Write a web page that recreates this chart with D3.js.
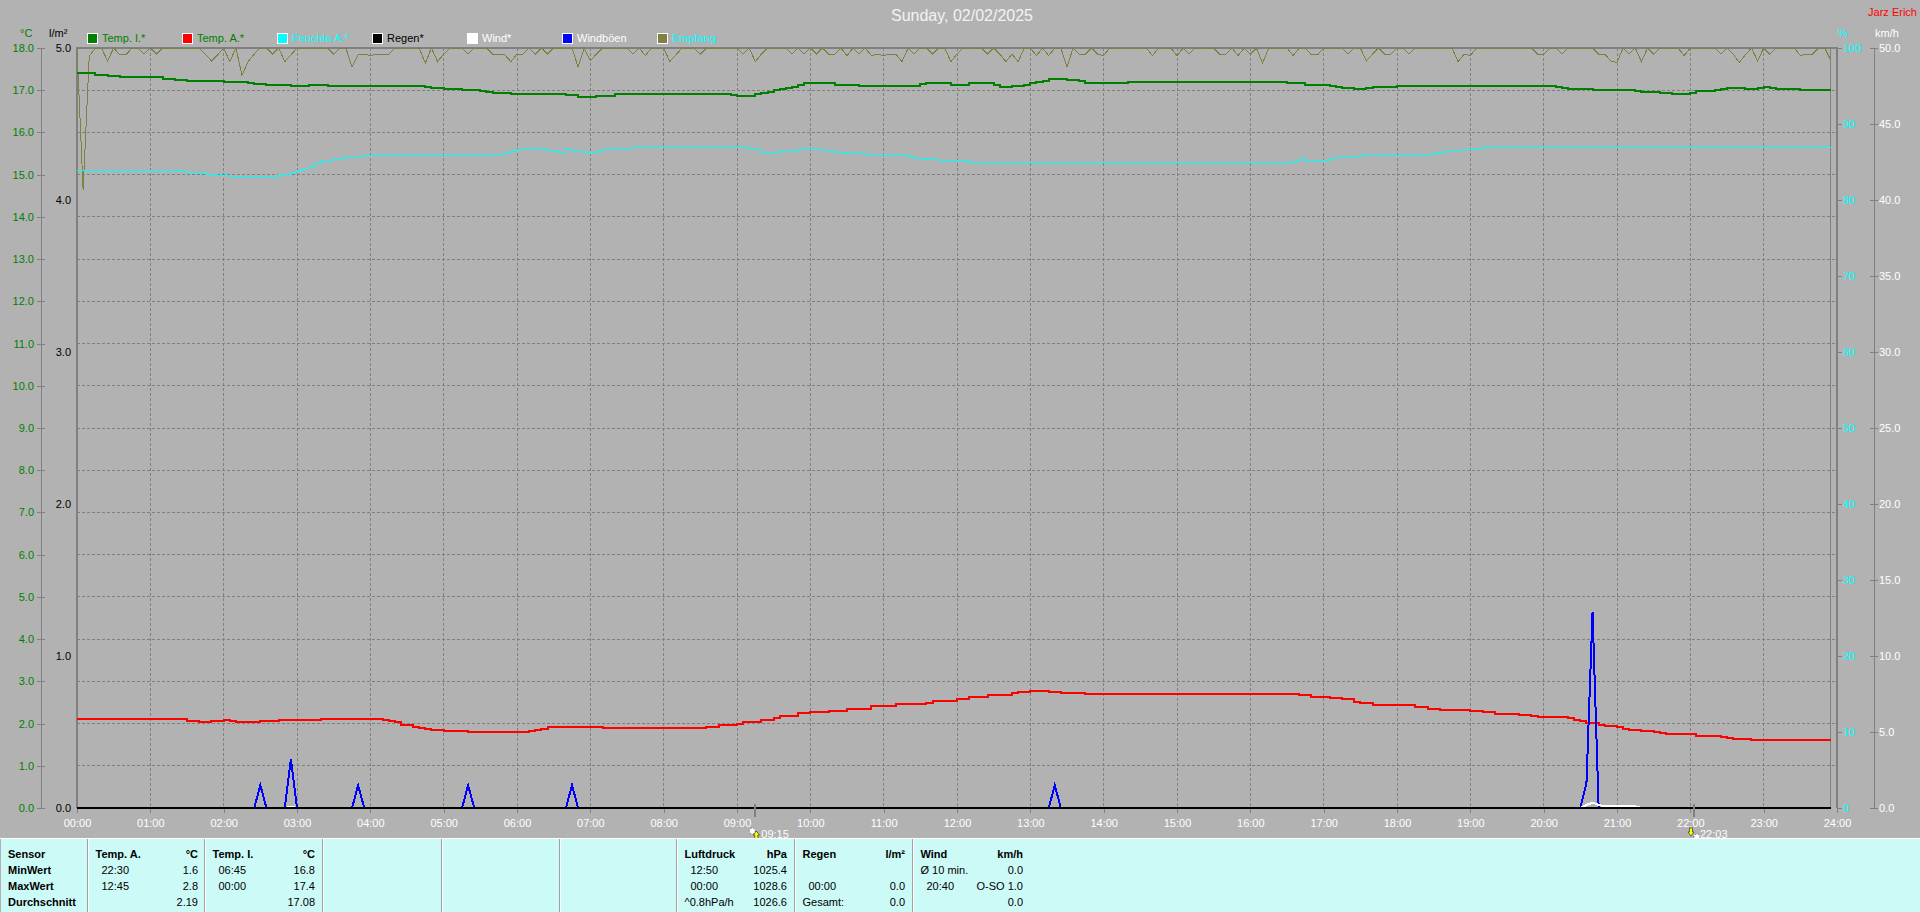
<!DOCTYPE html>
<html>
<head>
<meta charset="utf-8">
<title>Sunday, 02/02/2025</title>
<script src="https://cdn.jsdelivr.net/npm/d3@7"></script>
<style>
    html, body { margin: 0; padding: 0; background: #b2b2b2; overflow: hidden; }
    svg { display: block; }
    text { font-family: "Liberation Sans", Arial, sans-serif; font-size: 11px; }
    .crisp { shape-rendering: crispEdges; }
</style>
</head>
<body>
<div id="chart"></div>
<script>
// Values. Times are minutes after midnight.
const chartTitle = "Sunday, 02/02/2025";
const legendNames = ["Temp. I.*", "Temp. A.*", "Feuchte A.*", "Regen*", "Wind*", "Windböen", "Empfang"];

const tempInTimes = [0, 15, 25, 35, 70, 80, 90, 120, 140, 145, 155, 175, 190, 205, 285, 290, 300, 315, 330, 335, 340, 355,
    400, 410, 425, 440, 495, 535, 540, 555, 560, 565, 570, 575, 580, 585, 590, 595, 605, 610, 620, 640, 690, 695, 710, 715,
    730, 735, 740, 750, 755, 765, 775, 780, 785, 790, 795, 810, 820, 825, 835, 845, 860, 990, 995, 1005, 1025, 1030, 1035,
    1045, 1055, 1060, 1080, 1210, 1215, 1220, 1240, 1275, 1280, 1295, 1305, 1320, 1325, 1335, 1340, 1345, 1350, 1365, 1375,
    1380, 1385, 1390, 1410, 1435];
const tempInValues = [17.40, 17.37, 17.34, 17.32, 17.27, 17.24, 17.22, 17.19, 17.17, 17.15, 17.13, 17.11, 17.13, 17.11, 17.08, 17.05, 17.03, 17.01, 16.98, 16.95, 16.93, 16.91,
    16.89, 16.85, 16.87, 16.90, 16.92, 16.89, 16.87, 16.90, 16.93, 16.95, 17.00, 17.02, 17.05, 17.08, 17.13, 17.16, 17.18, 17.16, 17.13, 17.11, 17.15, 17.18, 17.16, 17.13,
    17.16, 17.18, 17.16, 17.13, 17.08, 17.11, 17.13, 17.16, 17.19, 17.21, 17.26, 17.24, 17.22, 17.18, 17.16, 17.18, 17.20, 17.18, 17.16, 17.13, 17.11, 17.08, 17.05,
    17.03, 17.05, 17.08, 17.10, 17.08, 17.05, 17.03, 17.01, 16.98, 16.96, 16.94, 16.92, 16.94, 16.97, 16.99, 17.01, 17.04, 17.06, 17.04, 17.06,
    17.08, 17.06, 17.04, 17.01, 17.01];

const tempOutTimes = [0, 90, 100, 110, 120, 125, 130, 150, 165, 200, 250, 255, 260, 265, 275, 280, 285, 290, 300, 320, 370, 375, 380, 385, 390, 405, 430,
    515, 525, 540, 545, 560, 570, 575, 590, 600, 615, 630, 650, 670, 695, 700, 720, 730, 745, 765, 770, 780, 795, 805, 825,
    1000, 1010, 1025, 1035, 1045, 1050, 1060, 1065, 1095, 1105, 1115, 1140, 1150, 1160, 1180, 1190, 1195, 1220, 1225, 1230, 1235,
    1245, 1250, 1260, 1265, 1270, 1280, 1290, 1295, 1300, 1325, 1345, 1350, 1355, 1370, 1435];
const tempOutValues = [2.10, 2.06, 2.04, 2.06, 2.08, 2.05, 2.03, 2.05, 2.08, 2.10, 2.08, 2.06, 2.03, 1.97, 1.93, 1.90, 1.88, 1.85, 1.82, 1.80, 1.82, 1.85, 1.88, 1.91, 1.93, 1.91, 1.89,
    1.93, 1.96, 2.00, 2.04, 2.09, 2.14, 2.18, 2.25, 2.27, 2.30, 2.34, 2.41, 2.46, 2.49, 2.53, 2.58, 2.63, 2.68, 2.72, 2.75, 2.77, 2.75, 2.72, 2.70,
    2.68, 2.64, 2.60, 2.57, 2.52, 2.49, 2.45, 2.44, 2.39, 2.35, 2.32, 2.29, 2.27, 2.23, 2.20, 2.17, 2.15, 2.12, 2.08, 2.05, 2.01,
    1.97, 1.94, 1.92, 1.88, 1.85, 1.82, 1.80, 1.78, 1.75, 1.71, 1.69, 1.66, 1.63, 1.61, 1.61];

const humidityTimes = [0, 85, 90, 105, 115, 125, 160, 165, 175, 180, 185, 190, 195, 200, 210, 220, 235, 285, 350, 355, 360, 375, 385, 395,
    400, 405, 415, 420, 425, 430, 440, 455, 545, 550, 560, 570, 575, 590, 605, 610, 620, 630, 645, 680, 685, 695, 705, 730,
    995, 1000, 1005, 1020, 1025, 1030, 1040, 1050, 1095, 1110, 1115, 1120, 1135, 1150, 1435];
const humidityValues = [83.9, 83.7, 83.6, 83.3, 83.2, 83.1, 83.1, 83.4, 83.6, 83.9, 84.1, 84.3, 84.8, 85.2, 85.5, 85.7, 85.8, 86.0, 86.2, 86.4, 86.6, 86.8, 86.5, 86.3,
    86.6, 86.4, 86.2, 86.1, 86.4, 86.6, 86.8, 86.9, 86.9, 86.6, 86.3, 86.2, 86.5, 86.7, 86.7, 86.5, 86.3, 86.1, 86.0, 85.7, 85.5, 85.3, 85.2, 84.9,
    85.1, 85.3, 85.1, 85.2, 85.4, 85.6, 85.7, 85.8, 86.0, 86.1, 86.3, 86.5, 86.7, 86.9, 86.9];

const rainTimes = [0, 1435];
const rainValues = [0, 0];

const windTimes = [0, 170, 175, 180, 1230, 1235, 1240, 1245, 1250, 1275, 1280, 1435];
const windValues = [0, 0, 0.1, 0, 0, 0.2, 0.35, 0.2, 0.1, 0.1, 0, 0];

const gustTimes = [0, 145, 150, 155, 170, 175, 180, 225, 230, 235, 315, 320, 325, 400, 405, 410, 795, 800, 805, 1230, 1235, 1240, 1245, 1435];
const gustValues = [0, 0, 1.5, 0, 0, 3.2, 0, 0, 1.5, 0, 0, 1.5, 0, 0, 1.5, 0, 0, 1.5, 0, 0, 1.6, 12.9, 0, 0];

// Reception, one value every 5 minutes, one row per hour
const receptionValues = [
    100, 81.3, 98.9, 100, 100, 98.3, 100, 99.1, 99.1, 100, 100, 99.2,
    100, 99.2, 100, 100, 100, 100, 100, 100, 100, 99.2, 98.3, 99.1,
    100, 98.2, 100, 96.4, 98.2, 99.2, 100, 100, 99.2, 100, 98.2, 99.1,
    100, 100, 100, 100, 100, 100, 99.2, 100, 100, 97.5, 99.1, 99.2,
    99, 99.2, 99.2, 99.2, 100, 100, 100, 100, 100, 98, 100, 98.2,
    99.2, 100, 100, 100, 99.2, 100, 100, 100, 99.2, 99.1, 99.1, 98.2,
    99.2, 99.2, 100, 99.2, 100, 99.2, 100, 100, 100, 100, 97.5, 100,
    98.3, 99.2, 100, 100, 100, 100, 100, 99.2, 100, 99, 100, 100,
    100, 98.2, 99.1, 100, 100, 100, 99.2, 100, 100, 100, 100, 100,
    100, 99.2, 100, 98.2, 99.2, 100, 100, 100, 100, 99.2, 100, 99.2,
    100, 99.2, 100, 99.2, 99.2, 100, 99, 100, 99.2, 100, 99, 99.2,
    99, 99.2, 99.2, 98.2, 100, 99.2, 100, 100, 99.2, 100, 100, 98.2,
    99.2, 100, 100, 100, 100, 99.2, 100, 99.2, 98.2, 99.2, 98.2, 100,
    100, 99, 100, 99, 100, 100, 97.5, 100, 99.2, 99.2, 100, 99.2,
    99, 100, 100, 100, 100, 100, 100, 100, 99, 100, 100, 100,
    99, 100, 99.2, 100, 100, 100, 100, 99.2, 99.2, 100, 99, 100,
    99.2, 100, 98, 100, 100, 100, 100, 99, 100, 100, 99.1, 99.1,
    100, 100, 100, 100, 99.2, 100, 100, 98.3, 99.2, 100, 99.2, 99.2,
    100, 100, 99.2, 100, 100, 100, 100, 100, 100, 100, 98.2, 99.2,
    99, 100, 100, 100, 100, 100, 100, 100, 100, 100, 100, 99.2,
    99.2, 100, 100, 99.2, 100, 100, 100, 100, 100, 99.2, 99.2, 98.3,
    98.1, 100, 99.2, 100, 98.2, 100, 99.2, 100, 100, 100, 100, 99,
    100, 100, 100, 100, 100, 99.2, 100, 99.2, 98.1, 99.1, 100, 98.3,
    100, 99.2, 100, 100, 100, 100, 99, 99.2, 99.2, 100, 100, 98.4
];
const receptionTimes = d3.range(0, 1440, 5);

const sunriseTime = 555;
const sunsetTime = 1323;

// Table under the chart
const rowLabels = ["Sensor", "MinWert", "MaxWert", "Durchschnitt"];
const tempOutStats = [["Temp. A.", "°C"], ["22:30", "1.6"], ["12:45", "2.8"], ["", "2.19"]];
const tempInStats = [["Temp. I.", "°C"], ["06:45", "16.8"], ["00:00", "17.4"], ["", "17.08"]];
const pressureStats = [["Luftdruck", "hPa"], ["12:50", "1025.4"], ["00:00", "1028.6"], ["^0.8hPa/h", "1026.6"]];
const rainStats = [["Regen", "l/m²"], ["", ""], ["00:00", "0.0"], ["Gesamt:", "0.0"]];
const windStats = [["Wind", "km/h"], ["Ø 10 min.", "0.0"], ["20:40", "O-SO 1.0"], ["", "0.0"]];

// Set up the SVG canvas dimensions
const width = 1920;
const height = 912;
const margin = { top: 48, right: 83, bottom: 104, left: 77 };
const plotBottom = height - margin.bottom;
const plotRight = width - margin.right;
const grey = "#808080";
const background = "#b2b2b2";

const svg = d3.select("#chart")
    .append("svg")
    .attr("width", width)
    .attr("height", height);

svg.append("rect")
    .attr("width", width)
    .attr("height", height)
    .attr("fill", background);

// Set up scales
const xScale = d3.scaleLinear().domain([0, 1440]).range([margin.left, plotRight]);
const tempScale = d3.scaleLinear().domain([0, 18]).range([plotBottom, margin.top]);
const rainScale = d3.scaleLinear().domain([0, 5]).range([plotBottom, margin.top]);
const percentScale = d3.scaleLinear().domain([0, 100]).range([plotBottom, margin.top]);
const windScale = d3.scaleLinear().domain([0, 50]).range([plotBottom, margin.top]);

// Dashed grid
svg.append("g").selectAll("line")
    .data(d3.range(1, 18))
    .enter().append("line")
    .attr("class", "crisp")
    .attr("x1", margin.left)
    .attr("x2", plotRight)
    .attr("y1", d => tempScale(d))
    .attr("y2", d => tempScale(d))
    .attr("stroke", grey)
    .attr("stroke-dasharray", "3,2");

svg.append("g").selectAll("line")
    .data(d3.range(60, 1440, 60))
    .enter().append("line")
    .attr("class", "crisp")
    .attr("x1", d => xScale(d))
    .attr("x2", d => xScale(d))
    .attr("y1", margin.top)
    .attr("y2", plotBottom)
    .attr("stroke", grey)
    .attr("stroke-dasharray", "3,2");

// Thin line where the data stops
svg.append("line")
    .attr("class", "crisp")
    .attr("x1", xScale(1435))
    .attr("x2", xScale(1435))
    .attr("y1", margin.top)
    .attr("y2", plotBottom)
    .attr("stroke", grey);

// Frame
svg.append("path")
    .attr("class", "crisp")
    .attr("d", `M${margin.left},${plotBottom}V${margin.top}H${plotRight}V${plotBottom}`)
    .attr("fill", "none")
    .attr("stroke", grey)
    .attr("stroke-width", 2);

function styleAxis(g, color, tickColor) {
    g.select(".domain").remove();
    g.selectAll(".tick line").attr("stroke", tickColor).attr("class", "crisp");
    g.selectAll(".tick text").attr("fill", color).style("font-size", "11px")
        .style("font-family", '"Liberation Sans", Arial, sans-serif');
}

// Add axes
const format1 = d3.format(".1f");

svg.append("g")
    .attr("transform", "translate(45, 0)")
    .call(d3.axisLeft(tempScale).tickValues(d3.range(0, 19)).tickFormat(format1).tickSize(8).tickPadding(3))
    .call(styleAxis, "#008000", grey);

svg.append("g")
    .attr("transform", `translate(${margin.left}, 0)`)
    .call(d3.axisLeft(rainScale).tickValues(d3.range(0, 6)).tickFormat(format1).tickSize(0).tickPadding(6))
    .call(styleAxis, "#000000", grey);

svg.append("g")
    .attr("transform", `translate(${plotRight}, 0)`)
    .call(d3.axisRight(percentScale).tickValues(d3.range(0, 101, 10)).tickSize(5).tickPadding(1))
    .call(styleAxis, "#00ffff", grey);

svg.append("g")
    .attr("transform", "translate(1870, 0)")
    .call(d3.axisRight(windScale).tickValues(d3.range(0, 51, 5)).tickFormat(format1).tickSize(8).tickPadding(1))
    .call(styleAxis, "#ffffff", grey);

svg.append("g")
    .attr("transform", `translate(0, ${plotBottom})`)
    .call(d3.axisBottom(xScale)
        .tickValues(d3.range(0, 1441, 60))
        .tickFormat(d => d3.format("02")(d / 60) + ":00")
        .tickSize(5)
        .tickPadding(6))
    .call(styleAxis, "#ffffff", grey);

// Spines of the two outer axes
[41, 1874].forEach(function (x) {
    svg.append("line")
        .attr("class", "crisp")
        .attr("x1", x)
        .attr("x2", x)
        .attr("y1", margin.top)
        .attr("y2", plotBottom)
        .attr("stroke", grey);
});

// Axis units and header texts
function addText(x, y, text, color, anchor) {
    return svg.append("text")
        .attr("x", x)
        .attr("y", y)
        .attr("dy", "0.35em")
        .attr("text-anchor", anchor || "start")
        .attr("fill", color)
        .text(text);
}

addText(20, 33, "°C", "#008000");
addText(49, 33, "l/m²", "#000000");
addText(1838, 33, "%", "#00ffff");
addText(1875, 33, "km/h", "#ffffff");
addText(1917, 12, "Jarz Erich", "#ff0000", "end");
addText(962, 15, chartTitle, "#f2f2f2", "middle").style("font-size", "16px");

// Add the lines
function drawLine(times, values, yScale, color, strokeWidth, curve) {
    const line = d3.line()
        .curve(curve)
        .x(d => xScale(d[0]))
        .y(d => yScale(d[1]));

    svg.append("path")
        .datum(d3.zip(times, values))
        .attr("class", "crisp")
        .attr("d", line)
        .attr("fill", "none")
        .attr("stroke", color)
        .attr("stroke-width", strokeWidth);
}

drawLine(receptionTimes, receptionValues, percentScale, "#808040", 1, d3.curveLinear);
drawLine(humidityTimes, humidityValues, percentScale, "#00ffff", 1, d3.curveStepAfter);
drawLine(tempInTimes, tempInValues, tempScale, "#008000", 2, d3.curveStepAfter);
drawLine(tempOutTimes, tempOutValues, tempScale, "#ff0000", 2, d3.curveStepAfter);
drawLine(gustTimes, gustValues, windScale, "#0000ff", 2, d3.curveLinear);
drawLine(windTimes, windValues, windScale, "#ffffff", 2, d3.curveLinear);
drawLine(rainTimes, rainValues, rainScale, "#000000", 2, d3.curveLinear);

// Legend
const legendColors = ["#008000", "#ff0000", "#00ffff", "#000000", "#ffffff", "#0000ff", "#808040"];
const legendTextColors = ["#008000", "#008000", "#00ffff", "#000000", "#ffffff", "#ffffff", "#00ffff"];
const legend = svg.append("g").selectAll("g")
    .data(legendNames)
    .enter().append("g")
    .attr("transform", (d, i) => `translate(${87 + i * 95}, 33)`);

legend.append("rect")
    .attr("class", "crisp")
    .attr("width", 10)
    .attr("height", 10)
    .attr("fill", (d, i) => legendColors[i])
    .attr("stroke", "#ffffff");

legend.append("text")
    .attr("x", 15)
    .attr("y", 5)
    .attr("dy", "0.35em")
    .attr("fill", (d, i) => legendTextColors[i])
    .text(d => d);

// Sunrise and sunset marks below the time axis
function drawSunMark(time, label, rising) {
    const x = xScale(time);
    svg.append("line")
        .attr("class", "crisp")
        .attr("x1", x)
        .attr("x2", x)
        .attr("y1", plotBottom - 4)
        .attr("y2", plotBottom + 9)
        .attr("stroke", grey)
        .attr("stroke-width", 2);

    svg.append("circle")
        .attr("cx", rising ? x - 3 : x + 3)
        .attr("cy", rising ? 831 : 837)
        .attr("r", 3)
        .attr("fill", "#ffffff")
        .attr("stroke", "#3a3a9a")
        .attr("stroke-dasharray", "1,2");

    svg.append("path")
        .attr("transform", `translate(${rising ? x + 1 : x - 3}, ${rising ? 835 : 832})`)
        .attr("d", rising ? "M0,-4L3,0H1.5V4H-1.5V0H-3Z" : "M0,4L3,0H1.5V-4H-1.5V0H-3Z")
        .attr("fill", "#ffff00")
        .attr("stroke", "#000000")
        .attr("stroke-width", 0.5);

    addText(x + 6, 834, label, "#ffffff");
}

drawSunMark(sunriseTime, "09:15", true);
drawSunMark(sunsetTime, "22:03", false);

// Table
const tableTop = 838;
const rowY = [854, 870, 886, 902];
const separators = [88, 205, 323, 442, 560, 677, 795, 913];

svg.append("rect")
    .attr("class", "crisp")
    .attr("x", 1)
    .attr("y", tableTop)
    .attr("width", width - 1)
    .attr("height", height - tableTop)
    .attr("fill", "#ccfaf7");

svg.append("line")
    .attr("class", "crisp")
    .attr("x1", 0)
    .attr("x2", width)
    .attr("y1", tableTop + 0.5)
    .attr("y2", tableTop + 0.5)
    .attr("stroke", "#ffffff");

separators.forEach(function (x) {
    svg.append("rect").attr("class", "crisp").attr("x", x - 1).attr("y", tableTop + 1)
        .attr("width", 1).attr("height", height - tableTop).attr("fill", "#a0a0a0");
    svg.append("rect").attr("class", "crisp").attr("x", x).attr("y", tableTop + 1)
        .attr("width", 1).attr("height", height - tableTop).attr("fill", "#ffffff");
});

rowLabels.forEach(function (label, i) {
    addText(8, rowY[i], label, "#000000").style("font-weight", "bold");
});

function drawPanel(panelX, rows) {
    rows.forEach(function (row, i) {
        const indent = /^\d\d:\d\d$/.test(row[0]) ? 6 : 0;
        const left = addText(panelX + 7.5 + indent, rowY[i], row[0], "#000000");
        const right = addText(panelX + 110, rowY[i], row[1], "#000000", "end");
        if (i === 0) {
            left.style("font-weight", "bold");
            right.style("font-weight", "bold");
        }
    });
}

drawPanel(separators[0], tempOutStats);
drawPanel(separators[1], tempInStats);
drawPanel(separators[5], pressureStats);
drawPanel(separators[6], rainStats);
drawPanel(separators[7], windStats);
</script>
</body>
</html>
